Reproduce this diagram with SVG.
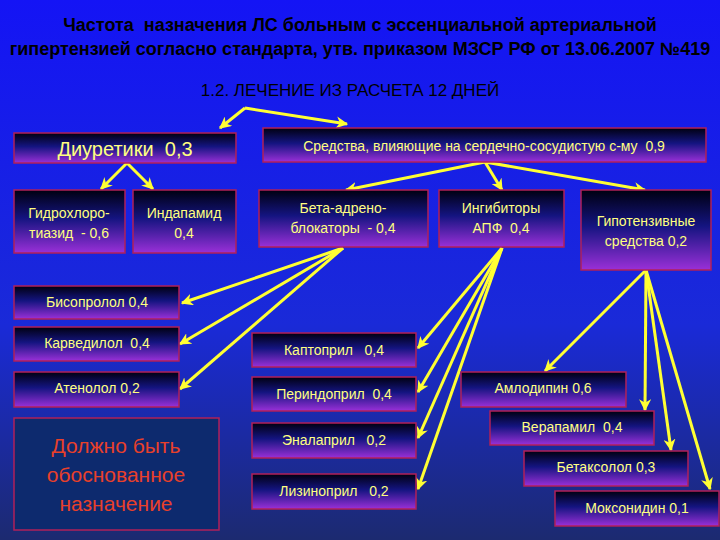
<svg xmlns="http://www.w3.org/2000/svg" width="720" height="540" viewBox="0 0 720 540">
<defs>
<linearGradient id="bg" x1="0" y1="0" x2="0" y2="1"><stop offset="0" stop-color="#1414f5"/><stop offset="0.6" stop-color="#1a2ad8"/><stop offset="1" stop-color="#1c2a70"/></linearGradient>
<linearGradient id="bx" x1="0" y1="0" x2="0" y2="1"><stop offset="0" stop-color="#000010"/><stop offset="0.45" stop-color="#141480"/><stop offset="1" stop-color="#9a30d8"/></linearGradient>
<marker id="ah" viewBox="0 0 10 10" refX="9" refY="5" markerWidth="4" markerHeight="4" orient="auto"><path d="M0,0 L10,5 L0,10 L3,5 z" fill="#ffff33"/></marker>
<style>
text{white-space:pre}
.b{fill:url(#bx);stroke:#b0205a;stroke-width:1.5}
.t{font-family:"Liberation Sans",Arial,sans-serif;fill:#ffff80;font-size:14px;text-anchor:middle}
.h{font-family:"Liberation Sans",Arial,sans-serif;fill:#000;font-weight:bold;font-size:17.5px;text-anchor:middle}
#c line{stroke:#ffff33;stroke-width:3;marker-end:url(#ah)}
</style>
</defs>
<rect width="720" height="540" fill="url(#bg)"/>
<text class="h" x="360" y="31" style="font-size:18px">Частота  назначения ЛС больным с эссенциальной артериальной</text>
<text class="h" x="360" y="55" style="font-size:18px">гипертензией согласно стандарта, утв. приказом МЗСР РФ от 13.06.2007 №419</text>
<text class="h" x="350" y="96" style="font-size:17px;font-weight:normal">1.2. ЛЕЧЕНИЕ ИЗ РАСЧЕТА 12 ДНЕЙ</text>
<g id="c">
<line x1="245" y1="108" x2="220" y2="128"/>
<line x1="245" y1="108" x2="347" y2="124"/>
<line x1="127" y1="163" x2="101" y2="189"/>
<line x1="127" y1="163" x2="153" y2="189"/>
<line x1="485" y1="162" x2="346" y2="190"/>
<line x1="485" y1="162" x2="502" y2="190"/>
<line x1="485" y1="162" x2="645" y2="190"/>
<line x1="343" y1="248" x2="182" y2="303"/>
<line x1="343" y1="248" x2="180" y2="344"/>
<line x1="343" y1="248" x2="180" y2="389"/>
<line x1="502" y1="248" x2="418" y2="348"/>
<line x1="502" y1="248" x2="418" y2="392"/>
<line x1="502" y1="248" x2="418" y2="438"/>
<line x1="502" y1="248" x2="418" y2="489"/>
<line x1="646" y1="270" x2="545" y2="371"/>
<line x1="646" y1="270" x2="645" y2="410"/>
<line x1="646" y1="270" x2="671" y2="450"/>
<line x1="646" y1="270" x2="710" y2="489"/>
</g>
<g id="n1"><rect class="b" x="14" y="133" width="222" height="30"/><text class="t" x="125" y="156" style="font-size:20px">Диуретики  0,3</text></g>
<g id="n2"><rect class="b" x="263" y="128" width="443" height="34"/><text class="t" x="484" y="151">Средства, влияющие на сердечно-сосудистую с-му  0,9</text></g>
<g id="n3"><rect class="b" x="14" y="190" width="111" height="63"/><text class="t" x="69" y="218">Гидрохлоро-</text><text class="t" x="69" y="238">тиазид  - 0,6</text></g>
<g id="n4"><rect class="b" x="133" y="190" width="103" height="63"/><text class="t" x="184" y="218">Индапамид</text><text class="t" x="184" y="238">0,4</text></g>
<g id="n5"><rect class="b" x="259" y="190" width="169" height="57"/><text class="t" x="343" y="213">Бета-адрено-</text><text class="t" x="343" y="233">блокаторы  - 0,4</text></g>
<g id="n6"><rect class="b" x="439" y="190" width="125" height="57"/><text class="t" x="501" y="213">Ингибиторы</text><text class="t" x="501" y="233">АПФ  0,4</text></g>
<g id="n7"><rect class="b" x="581" y="190" width="130" height="80"/><text class="t" x="646" y="226">Гипотензивные</text><text class="t" x="646" y="246">средства 0,2</text></g>
<g id="n8"><rect class="b" x="14" y="286" width="165" height="33"/><text class="t" x="97" y="307">Бисопролол 0,4</text></g>
<g id="n9"><rect class="b" x="14" y="327" width="165" height="34"/><text class="t" x="97" y="348">Карведилол  0,4</text></g>
<g id="n10"><rect class="b" x="14" y="372" width="165" height="35"/><text class="t" x="97" y="393">Атенолол 0,2</text></g>
<g id="n11"><rect x="14" y="418" width="205" height="112" fill="#0d2a6e" stroke="#b0205a" stroke-width="1.5"/><text class="t" x="116" y="453" style="fill:#e8402a;font-size:21px">Должно быть</text><text class="t" x="116" y="482" style="fill:#e8402a;font-size:21px">обоснованное</text><text class="t" x="116" y="511" style="fill:#e8402a;font-size:21px">назначение</text></g>
<g id="n12"><rect class="b" x="252" y="333" width="164" height="34"/><text class="t" x="334" y="355">Каптоприл   0,4</text></g>
<g id="n13"><rect class="b" x="252" y="377" width="164" height="34"/><text class="t" x="334" y="399">Периндоприл  0,4</text></g>
<g id="n14"><rect class="b" x="252" y="423" width="164" height="35"/><text class="t" x="334" y="445">Эналаприл   0,2</text></g>
<g id="n15"><rect class="b" x="252" y="474" width="164" height="35"/><text class="t" x="334" y="496">Лизиноприл   0,2</text></g>
<g id="n16"><rect class="b" x="461" y="372" width="165" height="35"/><text class="t" x="543" y="393">Амлодипин 0,6</text></g>
<g id="n17"><rect class="b" x="490" y="411" width="164" height="34"/><text class="t" x="572" y="432">Верапамил  0,4</text></g>
<g id="n18"><rect class="b" x="524" y="451" width="164" height="35"/><text class="t" x="606" y="472">Бетаксолол 0,3</text></g>
<g id="n19"><rect class="b" x="555" y="491" width="164" height="35"/><text class="t" x="637" y="513">Моксонидин 0,1</text></g>
</svg>
